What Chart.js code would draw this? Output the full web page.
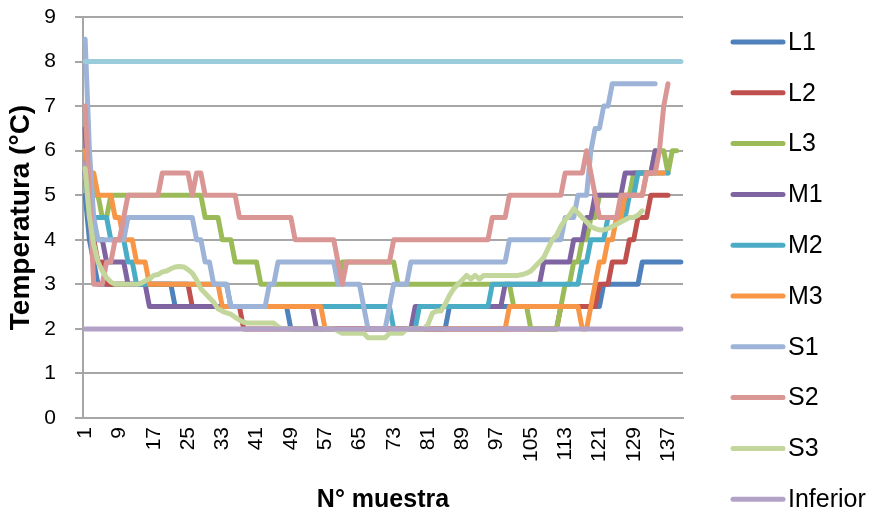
<!DOCTYPE html>
<html>
<head>
<meta charset="utf-8">
<script src="https://cdn.jsdelivr.net/npm/chart.js@4.4.1/dist/chart.umd.min.js"></script>
<style>
html,body{margin:0;padding:0;background:#fff;overflow:hidden;}
#wrap{width:877px;height:518px;position:relative;}
</style>
</head>
<body>
<div id="wrap"><canvas id="c" width="877" height="518"></canvas></div>
<script>
// ---- data ----
const categories = Array.from({length: 140}, (_, i) => String(i + 1));
const tickLabels = ['1','9','17','25','33','41','49','57','65','73','81','89','97','105','113','121','129','137'];
const yTicks = [0,1,2,3,4,5,6,7,8,9];

const L1 = [
5,4,3.5,3,3,3,3,3,3,3,
3,3,3,3,3,3,3,3,3,3,
3,2.5,2.5,2.5,2.5,2.5,2.5,2.5,2.5,2.5,
2.5,2.5,2.5,2.5,2.5,2.5,2.5,2.5,2.5,2.5,
2.5,2.5,2.5,2.5,2.5,2.5,2.5,2.5,2,2,
2,2,2,2,2,2,2,2,2,2,
2,2,2,2,2,2,2,2,2,2,
2,2,2,2,2,2,2,2,2,2,
2,2,2,2,2,2.5,2.5,2.5,2.5,2.5,
2.5,2.5,2.5,2.5,2.5,2.5,2.5,2.5,2.5,2.5,
2.5,2.5,2.5,2.5,2.5,2.5,2.5,2.5,2.5,2.5,
2.5,2.5,2.5,2.5,2.5,2.5,2.5,2.5,2.5,2.5,
2.5,3,3,3,3,3,3,3,3,3,
3.5,3.5,3.5,3.5,3.5,3.5,3.5,3.5,3.5,3.5];

const L2 = [
5.5,4.5,4,3.5,3.5,3,3,3,3,3,
3,3,3,3,3,3,3,3,3,3,
3,3,3,3,3,2.5,2.5,2.5,2.5,2.5,
2.5,2.5,2.5,2.5,2.5,2.5,2.5,2,2,2,
2,2,2,2,2,2,2,2,2,2,
2,2,2,2,2,2,2,2,2,2,
2,2,2,2,2,2,2,2,2,2,
2,2,2,2,2,2,2,2,2,2,
2,2,2,2,2,2,2,2,2,2,
2,2,2,2,2,2,2,2,2,2,
2,2,2,2,2,2,2,2,2,2,
2,2.5,2.5,2.5,2.5,2.5,2.5,2.5,2.5,2.5,
3,3,3,3.5,3.5,3.5,3.5,4,4,4.5,
4.5,4.5,5,5,5,5,5,null,null,null];

const L3 = [
6,5.5,5,5,4.5,4.5,5,5,5,5,
5,5,5,5,5,5,5,5,5,5,
5,5,5,5,5,5,5,5,4.5,4.5,
4.5,4.5,4,4,4,3.5,3.5,3.5,3.5,3.5,
3.5,3,3,3,3,3,3,3,3,3,
3,3,3,3,3,3,3,3,3,3,
3.5,3.5,3.5,3.5,3.5,3.5,3.5,3.5,3.5,3.5,
3.5,3.5,3.5,3,3,3,3,3,3,3,
3,3,3,3,3,3,3,3,3,3,
3,3,3,3,3,3,3,3,3,3,
2.5,2.5,2.5,2.5,2,2,2,2,2,2,
2,2.5,3,3,3.5,3.5,4,4,4.5,4.5,
5,5,5,5,5,5,5,5,5.5,5.5,
5.5,5.5,5.5,6,6,6,5.5,6,6,null];

const M1 = [
6.5,4.5,4,4,4,3.5,3.5,3.5,3.5,3.5,
3,3,3,3,3,2.5,2.5,2.5,2.5,2.5,
2.5,2.5,2.5,2.5,2.5,2.5,2.5,2.5,2.5,2.5,
2.5,2.5,2.5,2.5,2.5,2.5,2.5,2.5,2.5,2.5,
2.5,2.5,2.5,2.5,2.5,2.5,2.5,2.5,2.5,2.5,
2.5,2.5,2.5,2.5,2,2,2,2,2,2,
2,2,2,2,2,2,2,2,2,2,
2,2,2,2,2,2,2,2.5,2.5,2.5,
2.5,2.5,2.5,2.5,2.5,2.5,2.5,2.5,2.5,2.5,
2.5,2.5,2.5,2.5,2.5,2.5,2.5,2.5,3,3,
3,3,3,3,3,3,3,3.5,3.5,3.5,
3.5,3.5,3.5,3.5,4,4,4,4.5,4.5,5,
5,5,5,5,5,5,5.5,5.5,5.5,5.5,
5.5,5.5,5.5,6,null,null,null,null,null,null];

const M2 = [
5.5,4.5,4.5,4.5,4.5,4.5,4,4,4,4,
3.5,3.5,3,3,3,3,3,3,3,3,
3,3,3,3,3,3,3,3,3,3,
3,3,3,3,2.5,2.5,2.5,2.5,2.5,2.5,
2.5,2.5,2.5,2.5,2.5,2.5,2.5,2.5,2.5,2.5,
2.5,2.5,2.5,2.5,2.5,2.5,2.5,2.5,2.5,2.5,
2.5,2.5,2.5,2.5,2.5,2.5,2.5,2.5,2.5,2.5,
2.5,2.5,2,2,2,2,2,2,2.5,2.5,
2.5,2.5,2.5,2.5,2.5,2.5,2.5,2.5,2.5,2.5,
2.5,2.5,2.5,2.5,2.5,3,3,3,3,3,
3,3,3,3,3,3,3,3,3,3,
3,3,3,3,3,3,3.5,3.5,4,4,
4,4,4.5,4.5,4.5,4.5,4.5,5,5,5.5,
5.5,5.5,5.5,5.5,5.5,5.5,5.5,null,null,null];

const M3 = [
6,5.5,5.5,5,5,5,5,4.5,4.5,4,
4,4,3.5,3.5,3.5,3,3,3,3,3,
3,3,3,3,3,3,3,3,3,3,
3,3,2.5,2.5,2.5,2.5,2.5,2.5,2.5,2.5,
2.5,2.5,2.5,2.5,2.5,2.5,2.5,2.5,2.5,2.5,
2.5,2.5,2.5,2.5,2.5,2.5,2,2,2,2,
2,2,2,2,2,2,2,2,2,2,
2,2,2,2,2,2,2,2,2,2,
2,2,2,2,2,2,2,2,2,2,
2,2,2,2,2,2,2,2,2,2.5,
2.5,2.5,2.5,2.5,2.5,2.5,2.5,2.5,2.5,2.5,
2.5,2.5,2.5,2.5,2.5,2.5,2,2,2.5,3,
3.5,3.5,4,4,4.5,4.5,5,5,5,5,
5,5.5,5.5,5.5,5.5,5.5,null,null,null,null];

const S1 = [
8.5,6,4.5,4,4,4,4,4,4,4,
4.5,4.5,4.5,4.5,4.5,4.5,4.5,4.5,4.5,4.5,
4.5,4.5,4.5,4.5,4.5,4.5,4,4,3.5,3.5,
3,3,3,3,2.5,2.5,2.5,2.5,2.5,2.5,
2.5,2.5,2.5,3,3,3.5,3.5,3.5,3.5,3.5,
3.5,3.5,3.5,3.5,3.5,3.5,3.5,3.5,3.5,3,
3,3,3,3,3,2.5,2,2,2,2,
2,2.5,3,3,3,3,3.5,3.5,3.5,3.5,
3.5,3.5,3.5,3.5,3.5,3.5,3.5,3.5,3.5,3.5,
3.5,3.5,3.5,3.5,3.5,3.5,3.5,3.5,3.5,4,
4,4,4,4,4,4,4,4,4,4,
4,4,4.5,4.5,4.5,5,5,5,6,6.5,
6.5,7,7,7.5,7.5,7.5,7.5,7.5,7.5,7.5,
7.5,7.5,7.5,7.5,null,null,null,null,null,null];

const S2 = [
7,5,3,3,3,3.5,3.5,4,4,4.5,
5,5,5,5,5,5,5,5,5.5,5.5,
5.5,5.5,5.5,5.5,5.5,5,5.5,5.5,5,5,
5,5,5,5,5,5,4.5,4.5,4.5,4.5,
4.5,4.5,4.5,4.5,4.5,4.5,4.5,4.5,4.5,4,
4,4,4,4,4,4,4,4,4,3.5,
3,3.5,3.5,3.5,3.5,3.5,3.5,3.5,3.5,3.5,
3.5,3.5,4,4,4,4,4,4,4,4,
4,4,4,4,4,4,4,4,4,4,
4,4,4,4,4,4.5,4.5,4.5,4.5,5,
5,5,5,5,5,5,5,5,5,5,
5,5,5.5,5.5,5.5,5.5,5.5,6,5.5,5,
4.5,4.5,4.5,4.5,4.5,5,5,5,5,5,
5,5.5,5.5,5.5,6,7,7.5,null,null,null];

const S3 = [
5.6,4.5,3.9,3.5,3.3,3.15,3.05,3,3,3,
3,3,3,3.02,3.08,3.12,3.2,3.22,3.28,3.3,
3.35,3.39,3.4,3.39,3.33,3.25,3.1,2.9,2.8,2.7,
2.6,2.45,2.4,2.36,2.33,2.26,2.2,2.15,2.13,2.13,
2.13,2.13,2.13,2.13,2.13,2.05,2,2,2,2,
2,2,2,2,2,2,2,2,2,1.95,
1.9,1.9,1.9,1.9,1.9,1.9,1.8,1.8,1.8,1.8,
1.8,1.9,1.9,1.9,1.9,2,2,2,2,2,
2.1,2.35,2.4,2.4,2.55,2.75,2.9,3,3.1,3.2,
3.12,3.2,3.12,3.2,3.2,3.2,3.2,3.2,3.2,3.2,
3.2,3.2,3.22,3.25,3.3,3.4,3.5,3.6,3.8,4,
4.1,4.3,4.45,4.55,4.7,4.6,4.5,4.4,4.3,4.25,
4.22,4.22,4.25,4.3,4.35,4.4,4.45,4.5,4.5,4.55,
4.65,null,null,null,null,null,null,null,null,null];

const Inferior = [
2,2,2,2,2,2,2,2,2,2, 2,2,2,2,2,2,2,2,2,2,
2,2,2,2,2,2,2,2,2,2, 2,2,2,2,2,2,2,2,2,2,
2,2,2,2,2,2,2,2,2,2, 2,2,2,2,2,2,2,2,2,2,
2,2,2,2,2,2,2,2,2,2, 2,2,2,2,2,2,2,2,2,2,
2,2,2,2,2,2,2,2,2,2, 2,2,2,2,2,2,2,2,2,2,
2,2,2,2,2,2,2,2,2,2, 2,2,2,2,2,2,2,2,2,2,
2,2,2,2,2,2,2,2,2,2, 2,2,2,2,2,2,2,2,2,2];

const Superior = [
8,8,8,8,8,8,8,8,8,8, 8,8,8,8,8,8,8,8,8,8,
8,8,8,8,8,8,8,8,8,8, 8,8,8,8,8,8,8,8,8,8,
8,8,8,8,8,8,8,8,8,8, 8,8,8,8,8,8,8,8,8,8,
8,8,8,8,8,8,8,8,8,8, 8,8,8,8,8,8,8,8,8,8,
8,8,8,8,8,8,8,8,8,8, 8,8,8,8,8,8,8,8,8,8,
8,8,8,8,8,8,8,8,8,8, 8,8,8,8,8,8,8,8,8,8,
8,8,8,8,8,8,8,8,8,8, 8,8,8,8,8,8,8,8,8,8];

const seriesNames = ['L1','L2','L3','M1','M2','M3','S1','S2','S3','Inferior','Superior'];
const seriesValues = [L1, L2, L3, M1, M2, M3, S1, S2, S3, Inferior, Superior];
const seriesColors = ['#4F81BD','#C0504D','#9BBB59','#8064A2','#4BACC6','#F79646','#9DB4D8','#D99694','#C3D69B','#B3A2C7','#9BCCDC'];
const legendShown = ['L1','L2','L3','M1','M2','M3','S1','S2','S3','Inferior'];

// ---- chart ----
const FONT = "'Liberation Sans', Arial, sans-serif";
Chart.defaults.font.family = FONT;
Chart.defaults.color = '#000';

const datasets = seriesNames.map((name, i) => ({
  label: name,
  data: seriesValues[i],
  borderColor: seriesColors[i],
  backgroundColor: seriesColors[i],
  borderWidth: 5,
  pointRadius: 0,
  pointHoverRadius: 0,
  tension: 0,
  fill: false,
  borderJoinStyle: 'round',
  borderCapStyle: 'round',
  spanGaps: false,
  order: -i
}));

const sideLegend = {
  id: 'sideLegend',
  afterDraw(chart) {
    const ctx = chart.ctx;
    const items = chart.data.datasets.filter(d => legendShown.includes(d.label));
    ctx.save();
    items.forEach((d, k) => {
      const y = 42 + k * 50.8;
      ctx.strokeStyle = d.borderColor;
      ctx.lineWidth = 5;
      ctx.lineCap = 'round';
      ctx.beginPath();
      ctx.moveTo(733, y);
      ctx.lineTo(783, y);
      ctx.stroke();
      ctx.fillStyle = '#000';
      ctx.font = '25px ' + FONT;
      ctx.textBaseline = 'middle';
      ctx.textAlign = 'left';
      ctx.fillText(d.label, 788, y + 1);
    });
    ctx.restore();
  }
};

new Chart(document.getElementById('c'), {
  type: 'line',
  data: { labels: categories, datasets },
  options: {
    responsive: false,
    animation: false,
    events: [],
    layout: { padding: { left: 0, top: 17, right: 194, bottom: 0 } },
    plugins: { legend: { display: false }, tooltip: { enabled: false } },
    scales: {
      x: {
        type: 'category',
        offset: true,
        grid: { display: false, drawTicks: false },
        border: { display: true, color: '#A6A6A6', width: 2 },
        ticks: {
          autoSkip: false,
          maxRotation: 90,
          minRotation: 90,
          padding: 9,
          font: { size: 21 },
          color: '#000',
          callback: function(value, index) {
            const lab = this.getLabelForValue(value);
            return tickLabels.includes(lab) ? lab : null;
          }
        },
        title: {
          display: true,
          text: 'N° muestra',
          font: { size: 25, weight: 'bold' },
          color: '#000',
          padding: { top: 0, bottom: 3 }
        },
        afterFit(scale) { scale.height = 100; scale.paddingLeft = 0; scale.paddingRight = 0; }
      },
      y: {
        min: 0,
        max: 9,
        afterBuildTicks(scale) { scale.ticks = yTicks.map(v => ({ value: v })); },
        grid: { color: '#A6A6A6', lineWidth: 2, tickLength: 8, drawTicks: true },
        border: { display: true, color: '#A6A6A6', width: 2 },
        ticks: { padding: 19, font: { size: 21 }, color: '#000' },
        title: {
          display: true,
          text: 'Temperatura (°C)',
          font: { size: 28, weight: 'bold' },
          color: '#000',
          padding: { top: 4, bottom: 0 }
        },
        afterFit(scale) { scale.width = 83; scale.paddingTop = 0; scale.paddingBottom = 0; }
      }
    }
  },
  plugins: [sideLegend]
});
</script>
</body>
</html>
